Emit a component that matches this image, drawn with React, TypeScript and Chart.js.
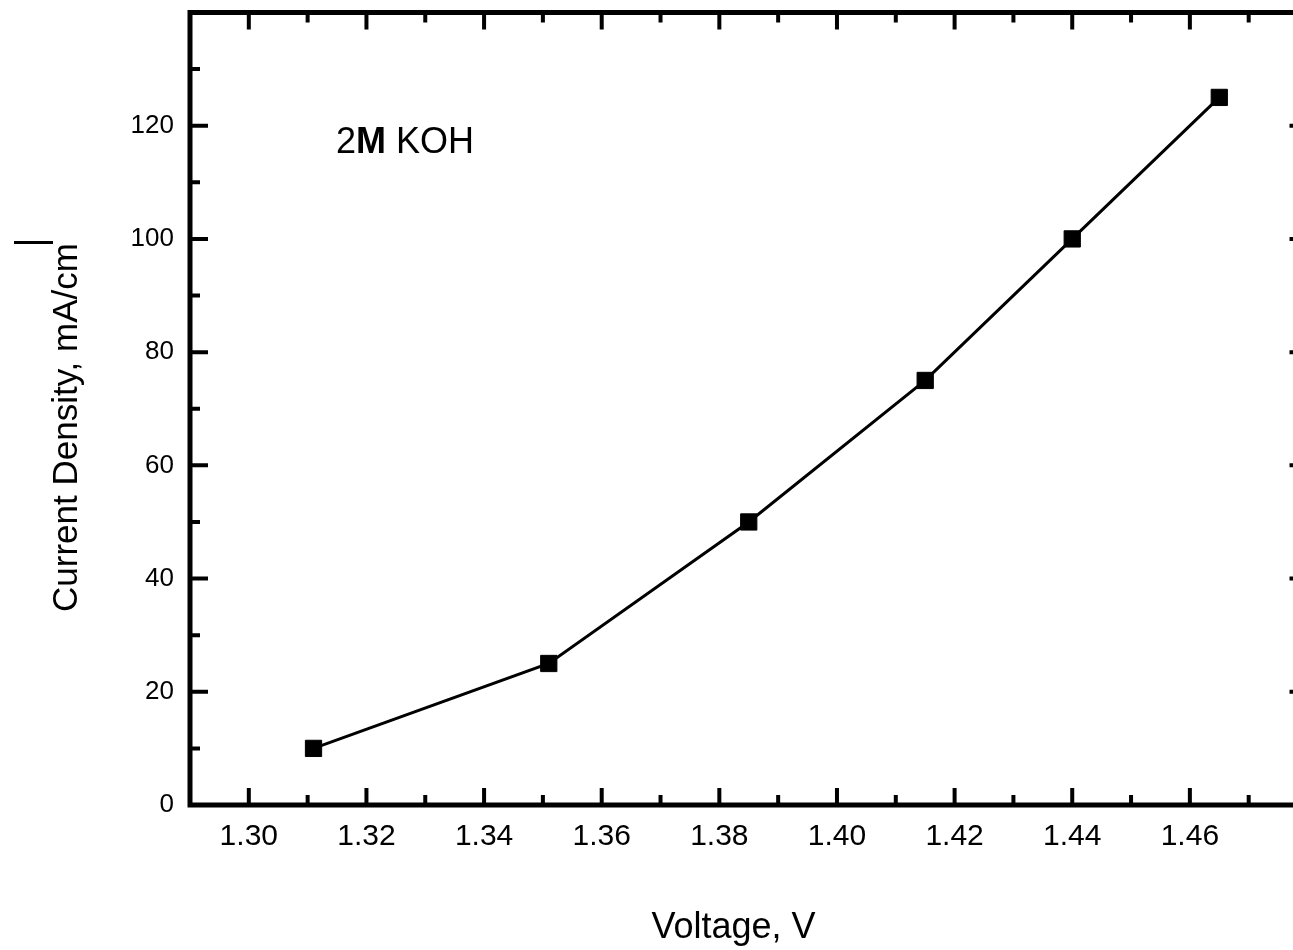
import React, { useEffect, useRef } from "react";
import { Chart, registerables } from "chart.js";

Chart.register(...registerables);

// ---- data ----
const voltage = [1.311, 1.351, 1.385, 1.415, 1.44, 1.465];
const currentDensity = [10, 25, 50, 75, 100, 125];

const xTickLabels = ["1.30", "1.32", "1.34", "1.36", "1.38", "1.40", "1.42", "1.44", "1.46"];
const yTickLabels = ["0", "20", "40", "60", "80", "100", "120"];

const xTitle = "Voltage, V";
const yTitle = "Current Density, mA/cm";
const annotationParts = ["2", "M", " KOH"];

const FONT = "'Liberation Sans', Arial, Helvetica, sans-serif";

const framePlugin = {
  id: "framePlugin",
  afterDraw(chart: any) {
    const { ctx, chartArea, scales } = chart;
    const { left, top, right, bottom } = chartArea;
    const xs = scales.x;
    const ys = scales.y;
    ctx.save();
    ctx.strokeStyle = "#000";
    ctx.fillStyle = "#000";
    ctx.lineCap = "butt";

    // frame
    ctx.lineWidth = 5;
    ctx.strokeRect(left, top, right - left, bottom - top);

    // ticks
    ctx.lineWidth = 4;
    ctx.beginPath();
    for (let k = 130; k <= 148; k++) {
      const px = xs.getPixelForValue(k / 100);
      const len = k % 2 === 0 ? 17 : 10;
      ctx.moveTo(px, bottom);
      ctx.lineTo(px, bottom - len);
      ctx.moveTo(px, top);
      ctx.lineTo(px, top + len);
    }
    for (let k = 1; k <= 13; k++) {
      const py = ys.getPixelForValue(k * 10);
      const len = k % 2 === 0 ? 18 : 10;
      ctx.moveTo(left, py);
      ctx.lineTo(left + len, py);
      ctx.moveTo(right, py);
      ctx.lineTo(right - len, py);
    }
    ctx.stroke();

    // y title (rotated)
    ctx.save();
    ctx.translate(77, 427.5);
    ctx.rotate(-Math.PI / 2);
    ctx.font = `35px ${FONT}`;
    ctx.textAlign = "center";
    ctx.textBaseline = "alphabetic";
    ctx.fillText(yTitle, 0, 0);
    ctx.restore();
    // stray superscript mark
    ctx.fillRect(14, 241, 39, 3);

    // x title
    ctx.font = `36px ${FONT}`;
    ctx.textAlign = "center";
    ctx.textBaseline = "alphabetic";
    ctx.fillText(xTitle, 733.5, 938);

    // annotation "2M KOH"
    ctx.textAlign = "left";
    let ax = 336;
    const ay = 153;
    annotationParts.forEach((part, i) => {
      ctx.font = `${i === 1 ? "bold " : ""}36px ${FONT}`;
      ctx.fillText(part, ax, ay);
      ax += ctx.measureText(part).width;
    });

    ctx.restore();
  },
};

export default function App() {
  const canvasRef = useRef<HTMLCanvasElement | null>(null);

  useEffect(() => {
    if (!canvasRef.current) return;
    const points = voltage.map((v, i) => ({ x: v, y: currentDensity[i] }));
    const chart = new Chart(canvasRef.current, {
      type: "line",
      data: {
        datasets: [
          {
            data: points,
            borderColor: "#000",
            backgroundColor: "#000",
            borderWidth: 3,
            tension: 0,
            pointStyle: "rect",
            pointRadius: 11.5,
            pointBorderWidth: 1,
            pointBackgroundColor: "#000",
            pointBorderColor: "#000",
            fill: false,
          },
        ],
      },
      options: {
        responsive: false,
        animation: false,
        devicePixelRatio: 1,
        layout: { padding: { top: 11, right: 12, left: 0, bottom: 0 } },
        plugins: {
          legend: { display: false },
          tooltip: { enabled: false },
          title: { display: false },
        },
        scales: {
          x: {
            type: "linear",
            min: 1.29,
            max: 1.48,
            grid: { display: false, drawTicks: false },
            border: { display: false },
            ticks: {
              stepSize: 0.02,
              includeBounds: false,
              autoSkip: false,
              maxRotation: 0,
              padding: 13.5,
              color: "#000",
              font: { family: FONT, size: 30 },
              callback: (v: any) => {
                const s = Number(v).toFixed(2);
                return xTickLabels.includes(s) ? s : "";
              },
            },
            afterFit: (s: any) => {
              s.height = 145;
              s.paddingLeft = 0;
              s.paddingRight = 0;
              s.paddingTop = 0;
              s.paddingBottom = 0;
            },
          },
          y: {
            type: "linear",
            min: 0,
            max: 140,
            grid: { display: false, drawTicks: false },
            border: { display: false },
            ticks: {
              stepSize: 20,
              autoSkip: false,
              padding: 16,
              color: "#000",
              font: { family: FONT, size: 26 },
              callback: (v: any) => {
                const s = String(Math.round(Number(v)));
                return yTickLabels.includes(s) ? s : "";
              },
            },
            afterFit: (s: any) => {
              s.width = 190;
              s.paddingLeft = 0;
              s.paddingRight = 0;
              s.paddingTop = 0;
              s.paddingBottom = 0;
            },
          },
        },
      },
      plugins: [framePlugin],
    });
    return () => chart.destroy();
  }, []);

  return (
    <div
      style={{
        position: "fixed",
        left: 0,
        top: 0,
        width: 1293,
        height: 950,
        overflow: "hidden",
        background: "#fff",
      }}
    >
      <canvas
        ref={canvasRef}
        width={1320}
        height={950}
        style={{ display: "block", width: 1320, height: 950 }}
      />
    </div>
  );
}
